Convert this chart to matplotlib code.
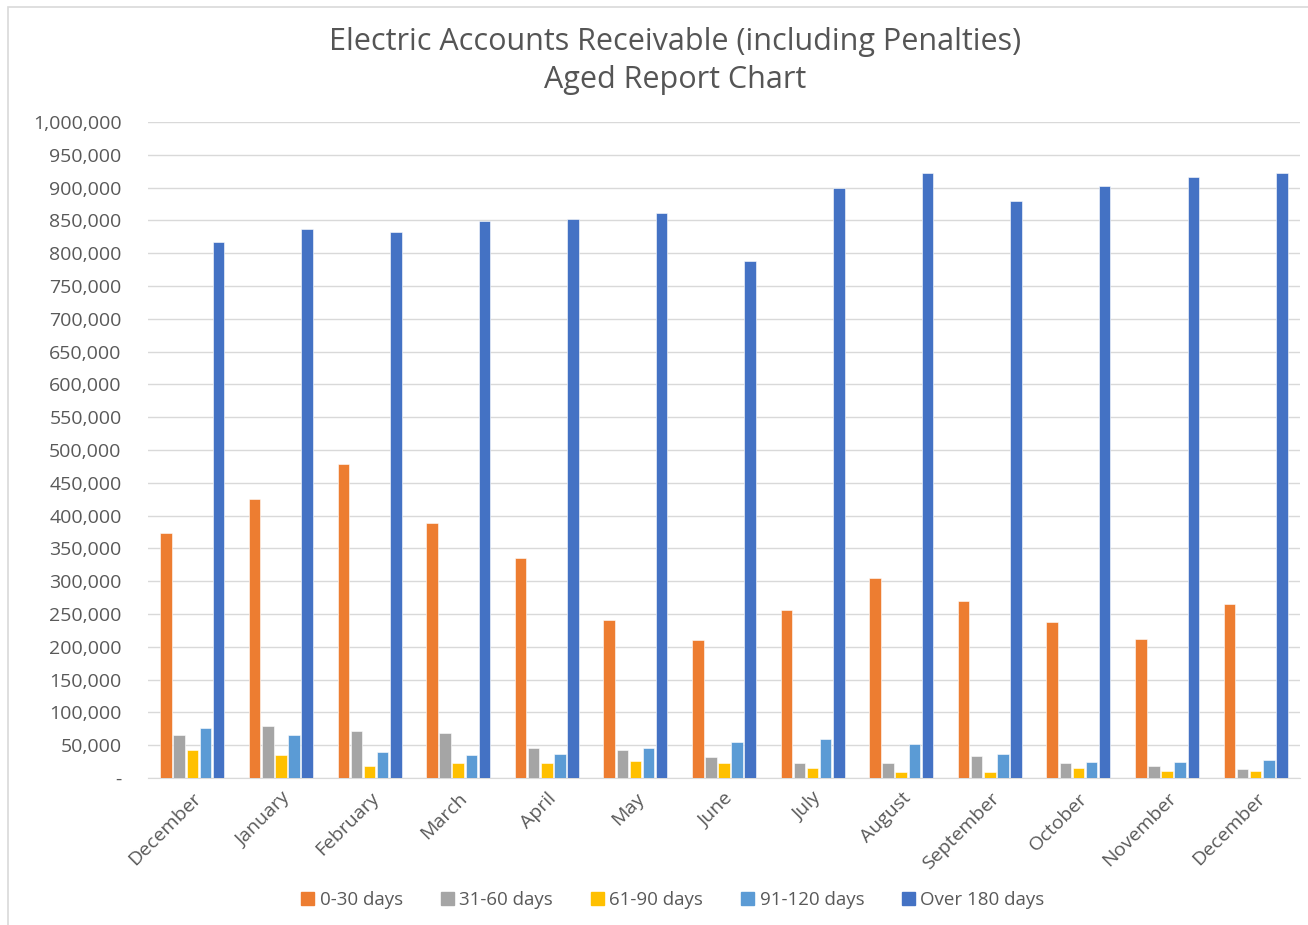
import matplotlib.pyplot as plt
import numpy as np
from matplotlib.patches import Rectangle

plt.rcParams['font.family'] = ['Open Sans', 'DejaVu Sans']

months = ['December', 'January', 'February', 'March', 'April', 'May', 'June',
          'July', 'August', 'September', 'October', 'November', 'December']

d0_30 = [374000, 426000, 478000, 388000, 336000, 241000, 210000,
         256000, 305000, 270000, 238000, 212000, 266000]
d31_60 = [66000, 80000, 71000, 68000, 46000, 42000, 32000,
          23000, 23000, 33500, 23000, 19000, 14000]
d61_90 = [42000, 35000, 19000, 23000, 23000, 26500, 23000,
          16000, 9000, 9000, 16000, 11000, 11000]
d91_120 = [76000, 66000, 40000, 35000, 37000, 46000, 54500,
           59500, 52000, 36500, 24000, 24000, 28000]
over180 = [817000, 837000, 832000, 849000, 852000, 861000, 788000,
           899000, 922000, 880000, 902000, 916000, 923000]

series = [d0_30, d31_60, d61_90, d91_120, over180]
names = ['0-30 days', '31-60 days', '61-90 days', '91-120 days', 'Over 180 days']
colors = ['#ED7D31', '#A5A5A5', '#FFC000', '#5B9BD5', '#4472C4']

fig = plt.figure(figsize=(13.08, 9.25), dpi=100)
ax = fig.add_axes([148/1308, 147/925, 1152/1308, 656/925])

x = np.arange(len(months))
step = 0.148
for i, (vals, name, c) in enumerate(zip(series, names, colors)):
    ax.bar(x + (i - 2) * step, vals, width=0.13, color=c, label=name,
           edgecolor='white', linewidth=0.4, zorder=3)

ax.set_xlim(-0.5, len(months) - 0.5)
ax.set_ylim(0, 1000000)
yt = np.arange(0, 1000001, 50000)
ax.set_yticks(yt)
ax.set_yticklabels(['-' if v == 0 else f'{v:,}' for v in yt])
ax.set_xticks(x)
ax.set_xticklabels(months, rotation=45, ha='right', rotation_mode='anchor')

ax.grid(axis='y', color='#d9d9d9', linewidth=1, zorder=0)
for s in ['top', 'right', 'left']:
    ax.spines[s].set_visible(False)
ax.spines['bottom'].set_color('#d9d9d9')
ax.tick_params(axis='both', length=0, colors='#595959', labelsize=14)
ax.tick_params(axis='y', pad=19)
ax.tick_params(axis='x', pad=8)

fig.text(675/1308, 1 - 61/925,
         'Electric Accounts Receivable (including Penalties)\nAged Report Chart',
         ha='center', va='center', fontsize=22, color='#555555', linespacing=1.32)

handles = [plt.Rectangle((0, 0), 1, 1, color=c) for c in colors]
fig.legend(handles, names, loc='center', bbox_to_anchor=(673/1308, 1 - 900/925),
           ncol=5, frameon=False, fontsize=13.5, handlelength=0.7, handleheight=0.7,
           handletextpad=0.3, columnspacing=2.0, labelcolor='#595959')

fig.patches.append(Rectangle((8/1308, -0.01), 1.02, 1 - 7/925 + 0.01,
                             transform=fig.transFigure, fill=False,
                             edgecolor='#d9d9d9', linewidth=1.2))

fig.savefig('out.png', dpi=100)
